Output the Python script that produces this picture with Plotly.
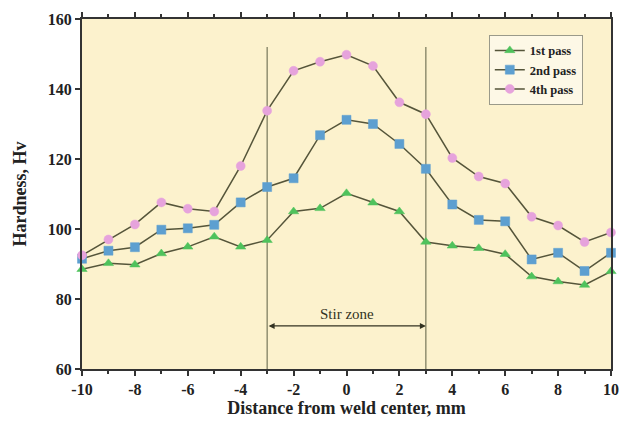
import plotly.graph_objects as go

# Distance from the weld center (mm) and Vickers hardness for each pass
distance = [-10, -9, -8, -7, -6, -5, -4, -3, -2, -1, 0, 1, 2, 3, 4, 5, 6, 7, 8, 9, 10]
pass_1st = [88.5, 90.2, 89.8, 93.0, 94.9, 97.8, 94.9, 96.8, 105.0, 105.9, 110.2, 107.5, 105.0, 96.3, 95.2, 94.5, 92.8, 86.4, 85.0, 84.0, 87.9]
pass_2nd = [91.5, 93.8, 94.8, 99.8, 100.2, 101.2, 107.6, 112.0, 114.5, 126.8, 131.2, 130.0, 124.3, 117.2, 107.0, 102.6, 102.2, 91.3, 93.2, 88.0, 93.2]
pass_4th = [92.5, 97.0, 101.3, 107.6, 105.8, 105.0, 118.0, 133.8, 145.2, 147.8, 149.8, 146.6, 136.2, 132.8, 120.3, 115.0, 113.0, 103.5, 101.0, 96.3, 99.0]

series_names = ["1st pass", "2nd pass", "4th pass"]
zone_bounds = [-3, 3]
zone_label = "Stir zone"

x_ticks = [-10, -8, -6, -4, -2, 0, 2, 4, 6, 8, 10]
x_tick_text = ["-10", "-8", "-6", "-4", "-2", "0", "2", "4", "6", "8", "10"]

font_family = "Liberation Serif, Times New Roman, serif"
line_color = "#55553a"

fig = go.Figure()

styles = [
    (pass_1st, "triangle-up", "#4fc25c"),
    (pass_2nd, "square", "#5d9fd0"),
    (pass_4th, "circle", "#e6a3dc"),
]
for name, (vals, sym, col) in zip(series_names, styles):
    fig.add_trace(go.Scatter(
        x=distance, y=vals, name=name, mode="lines+markers",
        line=dict(color=line_color, width=1.5),
        marker=dict(symbol=sym, size=9, color=col,
                    line=dict(color=col, width=0.5)),
        cliponaxis=False,
    ))

# Stir-zone boundaries
for xb in zone_bounds:
    fig.add_shape(type="line", xref="x", yref="y", x0=xb, x1=xb, y0=60, y1=152,
                  line=dict(color="#77775a", width=1.2), layer="below")

# Double-headed arrow spanning the stir zone
fig.add_annotation(x=zone_bounds[1], y=72.3, ax=zone_bounds[0], ay=72.3,
                   xref="x", yref="y", axref="x", ayref="y",
                   text="", showarrow=True, arrowhead=2, arrowsize=1,
                   arrowwidth=1.2, arrowcolor="#333322", arrowside="end+start")
fig.add_annotation(x=0, y=75.8, xref="x", yref="y", text=zone_label,
                   showarrow=False,
                   font=dict(family=font_family, size=15, color="#333322"))

fig.update_layout(
    width=630, height=426,
    margin=dict(l=82, r=11, t=15, b=53),
    paper_bgcolor="white",
    plot_bgcolor="#fcf2cd",
    showlegend=True,
    legend=dict(x=0.769, y=0.955, xanchor="left", yanchor="top",
                bgcolor="#fdf8e6", bordercolor="#9a9a8a", borderwidth=1,
                font=dict(family=font_family, size=12.5, color="#222", weight="bold"),
                tracegroupgap=0, itemwidth=30),
    font=dict(family=font_family, color="#222"),
)

fig.update_xaxes(
    range=[-10, 10], tickvals=x_ticks, ticktext=x_tick_text,
    showgrid=False, zeroline=False,
    showline=True, linecolor="#333", linewidth=2, mirror="ticks",
    ticks="outside", ticklen=5, tickcolor="#333", tickwidth=1.5,
    minor=dict(dtick=1, ticks="outside", ticklen=3, tickcolor="#333"),
    tickfont=dict(family=font_family, size=16, color="#222", weight="bold"),
    title=dict(text="Distance from weld center, mm", standoff=4,
               font=dict(family=font_family, size=18, color="#222", weight="bold")),
)
fig.update_yaxes(
    range=[60, 160], dtick=20, showgrid=False, zeroline=False,
    showline=True, linecolor="#333", linewidth=2, mirror=True,
    ticks="outside", ticklen=5, tickcolor="#333", tickwidth=1.5,
    tickfont=dict(family=font_family, size=16, color="#222", weight="bold"),
    title=dict(text="Hardness, Hv", standoff=16,
               font=dict(family=font_family, size=18, color="#222", weight="bold")),
)

fig.write_html("out.html")
